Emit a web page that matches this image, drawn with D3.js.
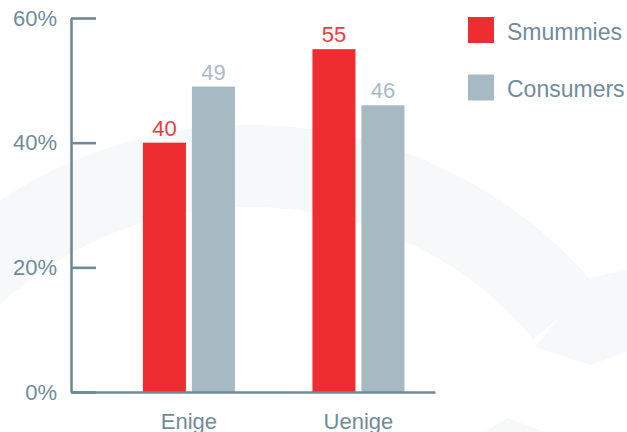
<!DOCTYPE html>
<html>
<head>
<meta charset="utf-8">
<script src="https://cdn.jsdelivr.net/npm/d3@7"></script>
<style>
  html, body { margin: 0; padding: 0; background: #ffffff; }
  svg { display: block; }
  text { font-family: "Liberation Sans", Arial, Helvetica, sans-serif; }
</style>
</head>
<body>
<div id="chart"></div>
<script>
// Data
const categories = ["Enige", "Uenige"];
const seriesNames = ["Smummies", "Consumers"];
const smummiesValues = [40, 55];
const consumersValues = [49, 46];
const yTicks = [0, 20, 40, 60];
const yTickLabels = ["0%", "20%", "40%", "60%"];

const seriesColors = ["#ee2d31", "#a6bac4"];
const valueLabelColors = ["#ee3b3d", "#aabdc7"];
const axisColor = "#6d8a97";
const textColor = "#6f8d9a";

const W = 627, H = 432;
const svg = d3.select("#chart").append("svg")
  .attr("width", W).attr("height", H);

// Faint circular-arrow watermark in the background
const wm = svg.append("g").attr("fill", "#f6f8fa");
const ringCx = 250, ringCy = 577;
wm.append("path")
  .attr("transform", `translate(${ringCx},${ringCy})`)
  .attr("d", d3.arc()({
    innerRadius: 370, outerRadius: 452,
    startAngle: -75 * Math.PI / 180, endAngle: 50 * Math.PI / 180
  }));
wm.append("path")
  .attr("d", d3.line()([[592, 277], [700, 256], [700, 326], [590, 365], [535, 347]]) + "Z");
wm.append("path")
  .attr("d", d3.line()([[485, 432], [507, 418], [545, 432]]) + "Z");

// Scales
const y = d3.scaleLinear().domain([0, 60]).range([392, 18]);
const x = d3.scaleBand().domain(categories).range([71, 435])
  .paddingInner(0.457).paddingOuter(0.302).align(0.702);
const xs = d3.scaleBand().domain(seriesNames).range([0, x.bandwidth()])
  .paddingInner(0.122).paddingOuter(0);

const rows = categories.map((c, i) => ({
  category: c,
  values: [smummiesValues[i], consumersValues[i]]
}));

// Bars
const groups = svg.append("g").selectAll("g").data(rows).join("g")
  .attr("transform", d => `translate(${x(d.category)},0)`);

groups.selectAll("rect")
  .data(d => d.values.map((v, k) => ({ v, k })))
  .join("rect")
  .attr("x", d => xs(seriesNames[d.k]))
  .attr("width", xs.bandwidth())
  .attr("y", d => y(d.v))
  .attr("height", d => y(0) - y(d.v))
  .attr("fill", d => seriesColors[d.k]);

groups.selectAll("text.val")
  .data(d => d.values.map((v, k) => ({ v, k })))
  .join("text")
  .attr("class", "val")
  .attr("x", d => xs(seriesNames[d.k]) + xs.bandwidth() / 2)
  .attr("y", d => y(d.v) - 7)
  .attr("text-anchor", "middle")
  .attr("font-size", 22)
  .attr("fill", d => valueLabelColors[d.k])
  .text(d => d.v);

// Y axis
const yAxis = svg.append("g")
  .attr("transform", "translate(71,0)")
  .call(d3.axisLeft(y).tickValues(yTicks)
    .tickFormat((d, i) => yTickLabels[i])
    .tickSizeInner(-25).tickSizeOuter(0).tickPadding(14));
yAxis.select(".domain").attr("stroke", axisColor).attr("stroke-width", 2.6);
yAxis.selectAll(".tick line").attr("stroke", axisColor).attr("stroke-width", 2.6);
yAxis.selectAll(".tick text")
  .attr("font-size", 22).attr("fill", textColor)
  .attr("font-family", "Liberation Sans, Arial, sans-serif");

// X axis
const xAxis = svg.append("g")
  .attr("transform", `translate(0,${y(0)})`)
  .call(d3.axisBottom(x).tickSize(0).tickPadding(21));
xAxis.select(".domain").attr("stroke", axisColor).attr("stroke-width", 2.6);
xAxis.selectAll(".tick text")
  .attr("font-size", 22).attr("fill", textColor)
  .attr("font-family", "Liberation Sans, Arial, sans-serif");

// Legend
const legend = svg.append("g").attr("transform", "translate(468,17)")
  .selectAll("g").data(seriesNames).join("g")
  .attr("transform", (d, i) => `translate(0,${i * 57.5})`);
legend.append("rect")
  .attr("width", 26).attr("height", 26)
  .attr("fill", (d, i) => seriesColors[i]);
legend.append("text")
  .attr("x", 39).attr("y", 22.5)
  .attr("font-size", 23).attr("fill", textColor)
  .text(d => d);
</script>
</body>
</html>
